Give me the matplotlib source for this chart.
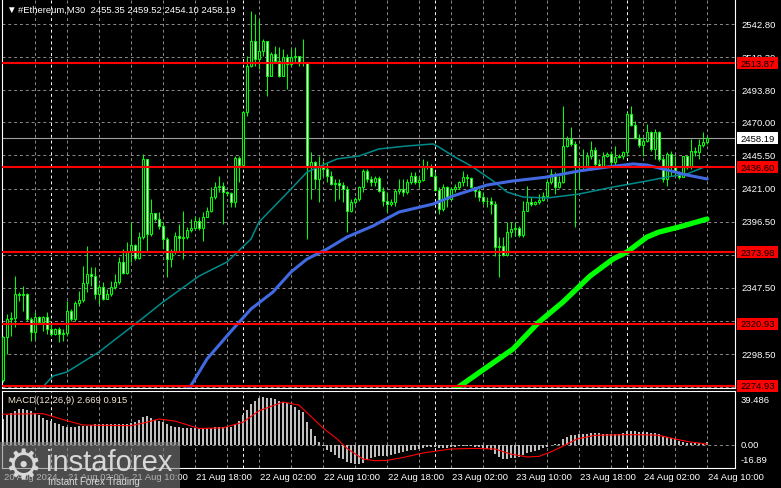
import matplotlib
matplotlib.use("Agg")
import matplotlib.pyplot as plt
from matplotlib.patches import Rectangle
from matplotlib.transforms import IdentityTransform

plt.rcParams['font.family'] = ['Liberation Sans', 'DejaVu Sans']

# ---- données (bougies M30) ----
open_first = 2279.0
closes = [2310.8, 2324.4, 2325.0, 2342.9, 2342.2, 2342.9, 2324.4, 2314.5, 2326.1, 2321.9,
          2325.6, 2317.0, 2313.3, 2317.0, 2313.3, 2313.8, 2330.1, 2324.4, 2336.0, 2338.5,
          2350.8, 2357.7, 2356.5, 2342.9, 2347.8, 2339.2, 2342.9, 2347.8, 2351.5, 2366.8,
          2358.2, 2373.8, 2379.2, 2369.3, 2384.9, 2442.9, 2387.3, 2402.9, 2398.4, 2393.5,
          2383.6, 2368.8, 2373.8, 2386.1, 2384.1, 2384.9, 2390.3, 2391.8, 2397.2, 2391.5,
          2399.7, 2404.6, 2414.5, 2421.9, 2423.1, 2418.2, 2417.7, 2411.3, 2443.3, 2438.7,
          2477.4, 2511.9, 2530.5, 2517.0, 2523.1, 2530.5, 2504.5, 2520.6, 2515.7, 2504.5,
          2518.1, 2513.2, 2518.1, 2518.9, 2513.7, 2514.9, 2436.7, 2440.4, 2428.0, 2437.9,
          2435.4, 2430.5, 2424.3, 2424.8, 2423.6, 2420.6, 2404.6, 2411.3, 2413.2, 2421.9,
          2434.2, 2428.0, 2425.6, 2428.5, 2419.4, 2412.0, 2409.5, 2410.8, 2419.4, 2420.6,
          2418.2, 2426.1, 2430.5, 2425.6, 2427.3, 2437.9, 2437.4, 2430.5, 2420.1, 2405.8,
          2421.9, 2413.2, 2420.6, 2421.9, 2425.6, 2429.3, 2428.5, 2421.9, 2419.4, 2414.5,
          2412.0, 2412.0, 2409.5, 2377.5, 2378.7, 2371.8, 2388.6, 2391.0, 2391.5, 2386.6,
          2404.6, 2410.8, 2409.5, 2410.8, 2412.5, 2415.7, 2425.6, 2431.7, 2421.9, 2425.6,
          2452.7, 2457.7, 2453.9, 2437.9, 2436.7, 2437.9, 2445.3, 2449.5, 2439.2, 2437.9,
          2445.3, 2446.6, 2440.4, 2444.1, 2445.3, 2447.8, 2476.2, 2468.0, 2458.2, 2453.2,
          2456.4, 2462.6, 2450.3, 2463.1, 2442.9, 2428.0, 2446.6, 2437.9, 2433.0, 2429.3,
          2444.8, 2436.7, 2449.0, 2447.8, 2453.2, 2455.35, 2458.19]
highs = [2312.0, 2328.1, 2329.3, 2356.5, 2344.1, 2349.1, 2343.6, 2325.6, 2329.3, 2326.9,
         2326.9, 2329.3, 2320.7, 2317.5, 2318.2, 2317.0, 2338.0, 2331.8, 2338.0, 2345.4,
         2363.9, 2378.7, 2362.6, 2362.6, 2350.3, 2351.5, 2346.6, 2352.8, 2357.7, 2370.1,
         2376.2, 2381.2, 2396.0, 2379.9, 2388.6, 2446.6, 2442.9, 2413.2, 2402.9, 2403.4,
         2396.0, 2384.9, 2376.2, 2388.6, 2394.7, 2404.6, 2392.3, 2398.4, 2400.9, 2399.7,
         2403.4, 2407.1, 2421.9, 2425.6, 2430.5, 2425.6, 2419.4, 2418.2, 2445.3, 2445.3,
         2478.6, 2519.4, 2552.4, 2550.0, 2546.5, 2531.7, 2523.1, 2521.8, 2526.8, 2525.5,
         2524.3, 2520.6, 2524.3, 2525.5, 2518.1, 2531.7, 2514.9, 2447.8, 2441.6, 2445.3,
         2441.6, 2440.4, 2434.2, 2428.0, 2428.0, 2425.6, 2423.1, 2413.2, 2414.5, 2423.1,
         2435.4, 2435.4, 2430.5, 2430.5, 2430.5, 2421.9, 2418.2, 2413.2, 2420.6, 2428.0,
         2428.0, 2428.0, 2433.0, 2433.0, 2430.5, 2442.9, 2441.6, 2439.2, 2433.0, 2421.9,
         2424.3, 2423.1, 2421.9, 2424.3, 2426.8, 2434.2, 2431.7, 2429.3, 2421.9, 2420.6,
         2418.2, 2414.5, 2414.5, 2412.0, 2384.9, 2384.9, 2396.0, 2396.0, 2396.0, 2393.5,
         2412.0, 2423.1, 2414.5, 2412.0, 2416.9, 2418.2, 2428.0, 2435.4, 2433.0, 2430.5,
         2481.8, 2460.1, 2466.3, 2456.4, 2441.6, 2450.3, 2447.8, 2456.4, 2451.5, 2442.9,
         2447.8, 2448.3, 2449.0, 2452.7, 2446.6, 2449.0, 2477.4, 2482.3, 2471.2, 2461.4,
         2458.9, 2468.8, 2463.8, 2465.1, 2463.8, 2445.3, 2447.8, 2449.0, 2445.3, 2434.2,
         2445.3, 2445.3, 2457.7, 2451.5, 2457.7, 2462.6, 2459.52]
lows = [2278.0, 2298.5, 2312.1, 2318.2, 2338.0, 2330.6, 2323.2, 2308.3, 2309.6, 2320.7,
        2315.8, 2313.3, 2312.1, 2312.6, 2307.1, 2308.3, 2312.1, 2323.2, 2323.2, 2334.3,
        2336.7, 2344.1, 2349.1, 2339.2, 2335.5, 2338.7, 2339.2, 2341.7, 2346.6, 2350.3,
        2357.7, 2357.7, 2366.4, 2368.3, 2368.8, 2383.6, 2373.8, 2386.1, 2397.2, 2391.0,
        2376.2, 2355.2, 2362.6, 2372.5, 2373.8, 2368.8, 2383.6, 2388.6, 2391.0, 2390.5,
        2382.4, 2399.7, 2403.4, 2413.2, 2418.2, 2394.7, 2415.7, 2407.1, 2407.1, 2425.6,
        2437.9, 2474.9, 2510.7, 2511.9, 2509.5, 2519.4, 2489.7, 2504.5, 2514.4, 2503.3,
        2504.0, 2494.7, 2511.9, 2514.4, 2511.9, 2511.9, 2383.6, 2413.2, 2420.6, 2410.8,
        2430.5, 2425.6, 2423.8, 2412.0, 2413.2, 2410.8, 2388.6, 2403.4, 2409.5, 2412.0,
        2418.2, 2425.6, 2423.1, 2423.1, 2418.2, 2408.3, 2403.4, 2408.3, 2408.3, 2416.9,
        2415.7, 2416.9, 2424.3, 2424.3, 2421.9, 2426.8, 2435.4, 2430.0, 2419.4, 2402.1,
        2404.6, 2407.1, 2412.0, 2418.2, 2420.6, 2423.1, 2423.1, 2421.1, 2414.5, 2412.0,
        2409.5, 2407.1, 2402.1, 2371.3, 2355.2, 2370.8, 2371.3, 2384.9, 2386.1, 2384.9,
        2384.9, 2404.6, 2408.3, 2408.8, 2409.5, 2412.0, 2414.5, 2424.3, 2416.9, 2421.1,
        2425.1, 2451.5, 2452.7, 2392.3, 2420.6, 2435.4, 2435.9, 2442.9, 2437.9, 2436.7,
        2436.7, 2444.1, 2437.9, 2437.9, 2443.3, 2442.9, 2445.3, 2467.5, 2457.7, 2451.5,
        2445.3, 2455.7, 2449.0, 2442.9, 2441.6, 2425.6, 2423.1, 2430.5, 2430.5, 2428.0,
        2429.3, 2435.4, 2435.4, 2445.3, 2442.9, 2451.5, 2454.10]

# moyennes mobiles (points relevés : indice de barre, prix)
ma_teal_k = [8, 12.5, 16, 24, 34, 40, 49, 56, 62, 64, 72, 76, 83.5, 89, 94, 101, 107.5, 109,
             112.5, 117.5, 122.5, 126, 130, 136, 144, 152.5, 161, 166, 171, 176]
ma_teal_p = [2268, 2282.2, 2285.2, 2300.0, 2322.9, 2337.0, 2356.2, 2366.6, 2383.6, 2396.2,
             2420.6, 2433.2, 2442.9, 2445.1, 2450.3, 2452.5, 2454.0, 2451.7, 2445.1, 2436.9,
             2426.6, 2418.4, 2414.7, 2414.0, 2416.9, 2422.1, 2426.6, 2429.5, 2431.8, 2437.7]
ma_blue_k = [44, 46.75, 51, 57.5, 62, 67.5, 72, 76, 81, 86, 92.5, 99, 107.5, 112.5, 121,
             127.5, 136, 144, 151, 157.5, 161, 166, 171, 176]
ma_blue_p = [2268, 2274.0, 2294.8, 2317.0, 2331.8, 2344.4, 2359.2, 2368.8, 2376.2, 2385.1,
             2393.3, 2403.6, 2409.5, 2415.5, 2423.6, 2426.6, 2429.5, 2434.0, 2436.9, 2439.2,
             2438.4, 2434.7, 2431.0, 2428.1]
ma_lime_k = [111, 119.25, 127.5, 134, 140, 146.75, 152.5, 156, 161, 164, 169, 176]
ma_lime_p = [2268, 2285.2, 2302.2, 2322.2, 2337.0, 2356.2, 2368.8, 2374.0, 2385.1, 2388.8,
             2392.5, 2398.4]

niveaux = [2513.87, 2436.60, 2373.98, 2320.93, 2274.93]
prix_actuel = 2458.19
prix_grille = [2542.80, 2518.30, 2493.80, 2470.00, 2445.50, 2421.00, 2396.50, 2372.00,
               2347.50, 2323.00, 2298.50, 2274.00]
prix_labels = [2542.80, 2518.30, 2493.80, 2470.00, 2445.50, 2421.00, 2396.50, 2372.00,
               2347.50, 2298.50]

macd_hist = [23, 26, 28, 30, 32, 32, 31, 30, 28, 26,
             24, 22, 21, 19.5, 18, 16.5, 16, 15.8, 16, 16.5,
             17, 17, 17.5, 18, 18, 18, 18.4, 18.4, 18.4, 18.4,
             18.4, 18.5, 19, 20, 22, 25, 25.5, 24, 22, 21,
             20, 18, 16.5, 16, 15.5, 15, 14.6, 14.6, 14.6, 14.6,
             14.6, 14.8, 15, 15.5, 16, 16, 15.5, 15.5, 18, 21,
             26, 31, 36, 39, 41, 42, 41.5, 41, 40, 39,
             38, 36.5, 35, 33.5, 31, 29, 20, 14, 8, 3,
             -1, -4, -6.5, -9, -11, -12.5, -14.5, -15.5, -16.5, -16.5,
             -15.5, -13, -11.5, -10.5, -10, -9.5, -9.5, -9, -8, -7,
             -6.5, -5.5, -4.5, -4, -3.5, -2.5, -2, -2, -2, -3,
             -2.5, -2.5, -2, -1.5, -1, -0.5, -0.5, -1, -1.5, -2,
             -2.5, -3.5, -4.5, -8, -10.5, -12, -12, -11.5, -11, -10.5,
             -8.5, -7, -6, -5, -4, -3, -1.5, 0, 0.5, 1,
             5, 7, 8.5, 9, 9.5, 10, 10, 10.5, 10.5, 10.5,
             10, 10, 10, 10, 10, 10.5, 12, 12.5, 12, 11.5,
             11, 11, 10.5, 10.5, 9.5, 7.5, 7, 6, 5, 3.5,
             3, 2, 2, 1.5, 1.5, 2, 2.669]
signal_k = [0, 10, 16, 20, 32, 36, 39, 43, 49, 55, 60, 64, 70, 74, 77, 80, 83.5, 86, 90, 93,
            96, 100, 105, 112, 118, 123, 127, 131, 134, 137, 140, 143.5, 148, 155, 160,
            164, 168, 172, 176]
signal_v = [27, 27.5, 21.3, 17.5, 17, 20, 22.8, 21, 14.5, 15, 20, 30, 37.7, 35, 25, 15, 5.3,
            -3, -12.3, -13.8, -13.5, -11, -7, -3.5, -3, -3.5, -8, -10.5, -10, -6, -1, 5.3,
            8.5, 9, 9, 8.5, 5.3, 2.5, 0.915]

date_labels = ['20 Aug 2024', '21 Aug 02:00', '21 Aug 10:00', '21 Aug 18:00', '22 Aug 02:00',
               '22 Aug 10:00', '22 Aug 18:00', '23 Aug 02:00', '23 Aug 10:00', '23 Aug 18:00',
               '24 Aug 02:00', '24 Aug 10:00']
date_bars = [0, 16, 32, 48, 64, 80, 96, 112, 128, 144, 160, 176]
jours_bars = [12, 60, 108, 156]

# ---- figure ----
W, H = 781, 489
fig = plt.figure(figsize=(W / 100, H / 100), dpi=100, facecolor='black')


def rect(x0, y0, x1, y1):
    return [x0 / W, 1 - y1 / H, (x1 - x0) / W, (y1 - y0) / H]


ax = fig.add_axes(rect(2, 0, 735, 389))
ax2 = fig.add_axes(rect(2, 392, 735, 469))
n = len(closes)
idx = list(range(n))
opens = [open_first] + closes[:-1]

for a in (ax, ax2):
    a.set_facecolor('black')
    a.set_xlim(-0.25, 183)
    a.set_xticks([])
    a.set_yticks([])
    for s in a.spines.values():
        s.set_color('white')
        s.set_linewidth(0.8)
    for k in range(8, 177, 8):
        if k not in jours_bars:
            a.axvline(k, color='#8c8c8c', lw=0.7, dashes=(3, 3), zorder=1)
    for k in jours_bars:
        a.axvline(k, color='white', lw=0.7, dashes=(3, 3), zorder=1)
ax.spines['top'].set_visible(False)

ax.set_ylim(2542.8 - 364 / 1.3508, 2542.8 + 25 / 1.3508)
for p in prix_grille:
    ax.axhline(p, color='#8c8c8c', lw=0.7, dashes=(3, 3), zorder=1)
ax.axhline(prix_actuel, color='#a0a0a0', lw=0.8, zorder=2)

# bougies
ax.vlines(idx, lows, highs, color='#00ff00', lw=0.75, zorder=3)
for k in idx:
    o, c = opens[k], closes[k]
    fill = 'black' if c >= o else 'white'
    ax.bar(k, abs(c - o), bottom=min(o, c), width=0.5, facecolor=fill,
           edgecolor='#00ff00', linewidth=0.75, zorder=3)

ax.plot(ma_teal_k, ma_teal_p, color='#008b8b', lw=1.1, zorder=4)
ax.plot(ma_blue_k, ma_blue_p, color='#4169e1', lw=2.2, zorder=4)
ax.plot(ma_lime_k, ma_lime_p, color='#00ff00', lw=3.8, zorder=4, solid_capstyle='round')
for p in niveaux:
    ax.axhline(p, color='#ff0000', lw=1.5, zorder=5)

# MACD
ax2.set_ylim(-23 / 1.14, 54 / 1.14)
ax2.axhline(0, color='#8c8c8c', lw=0.7, dashes=(3, 3), zorder=1)
ax2.bar(idx, macd_hist, width=0.72, color='#c0c0c0', zorder=2)
ax2.plot(signal_k, signal_v, color='#ff0000', lw=0.8, zorder=3)

fig.canvas.draw()
ident = IdentityTransform()
fs = 6.8


def ypx(a, v):
    return a.transData.transform((0, v))[1]


for p in prix_labels:
    fig.text(741, ypx(ax, p), f'{p:.2f}', color='white', fontsize=fs, va='center',
             transform=ident)
for p in niveaux:
    y = ypx(ax, p)
    fig.add_artist(Rectangle((737, y - 6), 41, 12, facecolor='#ff0000', edgecolor='none',
                             transform=ident, zorder=6))
    fig.text(757.5, y, f'{p:.2f}', color='black', fontsize=fs, va='center', ha='center',
             transform=ident, zorder=7)
y = ypx(ax, prix_actuel)
fig.add_artist(Rectangle((737, y - 6), 41, 12, facecolor='white', edgecolor='none',
                         transform=ident, zorder=6))
fig.text(757.5, y, f'{prix_actuel:.2f}', color='black', fontsize=fs, va='center',
         ha='center', transform=ident, zorder=7)

for v, lab in [(39.486, '39.486'), (0, '0.00')]:
    fig.text(741, ypx(ax2, v), lab, color='white', fontsize=fs, va='center', transform=ident)
fig.text(741, H - 461, '-16.89', color='white', fontsize=fs, va='center', transform=ident)

fig.text(6, H - 10, '▼', color='white', fontsize=7, va='center', transform=ident)
fig.text(18, H - 10, '#Ethereum,M30  2455.35 2459.52 2454.10 2458.19', color='white',
         fontsize=fs, va='center', transform=ident)
fig.text(8, H - 401, 'MACD(12,26,9) 2.669 0.915', color='#f0e6d2', fontsize=fs,
         va='center', transform=ident)

for k, lab in zip(date_bars, date_labels):
    xp = ax2.transData.transform((k, 0))[0]
    fig.text(xp + 1, H - 478, lab, color='white', fontsize=fs, va='center', transform=ident)

# filigrane instaforex
fig.add_artist(Rectangle((0, 0), 180, 46, facecolor='#7f7f7f', alpha=0.6, edgecolor='none',
                         transform=ident, zorder=10))
fig.text(23, 22, '⚙', color='#d8d8d8', fontsize=30, family='DejaVu Sans', ha='center',
         va='center', transform=ident, zorder=11)
fig.text(46, 26, 'instaforex', color='#d8d8d8', fontsize=21, va='center', transform=ident,
         zorder=11)
fig.text(48, 7, 'Instant Forex Trading', color='#d8d8d8', fontsize=7, va='center',
         transform=ident, zorder=11)

fig.savefig('out.png', dpi=100, facecolor='black')
